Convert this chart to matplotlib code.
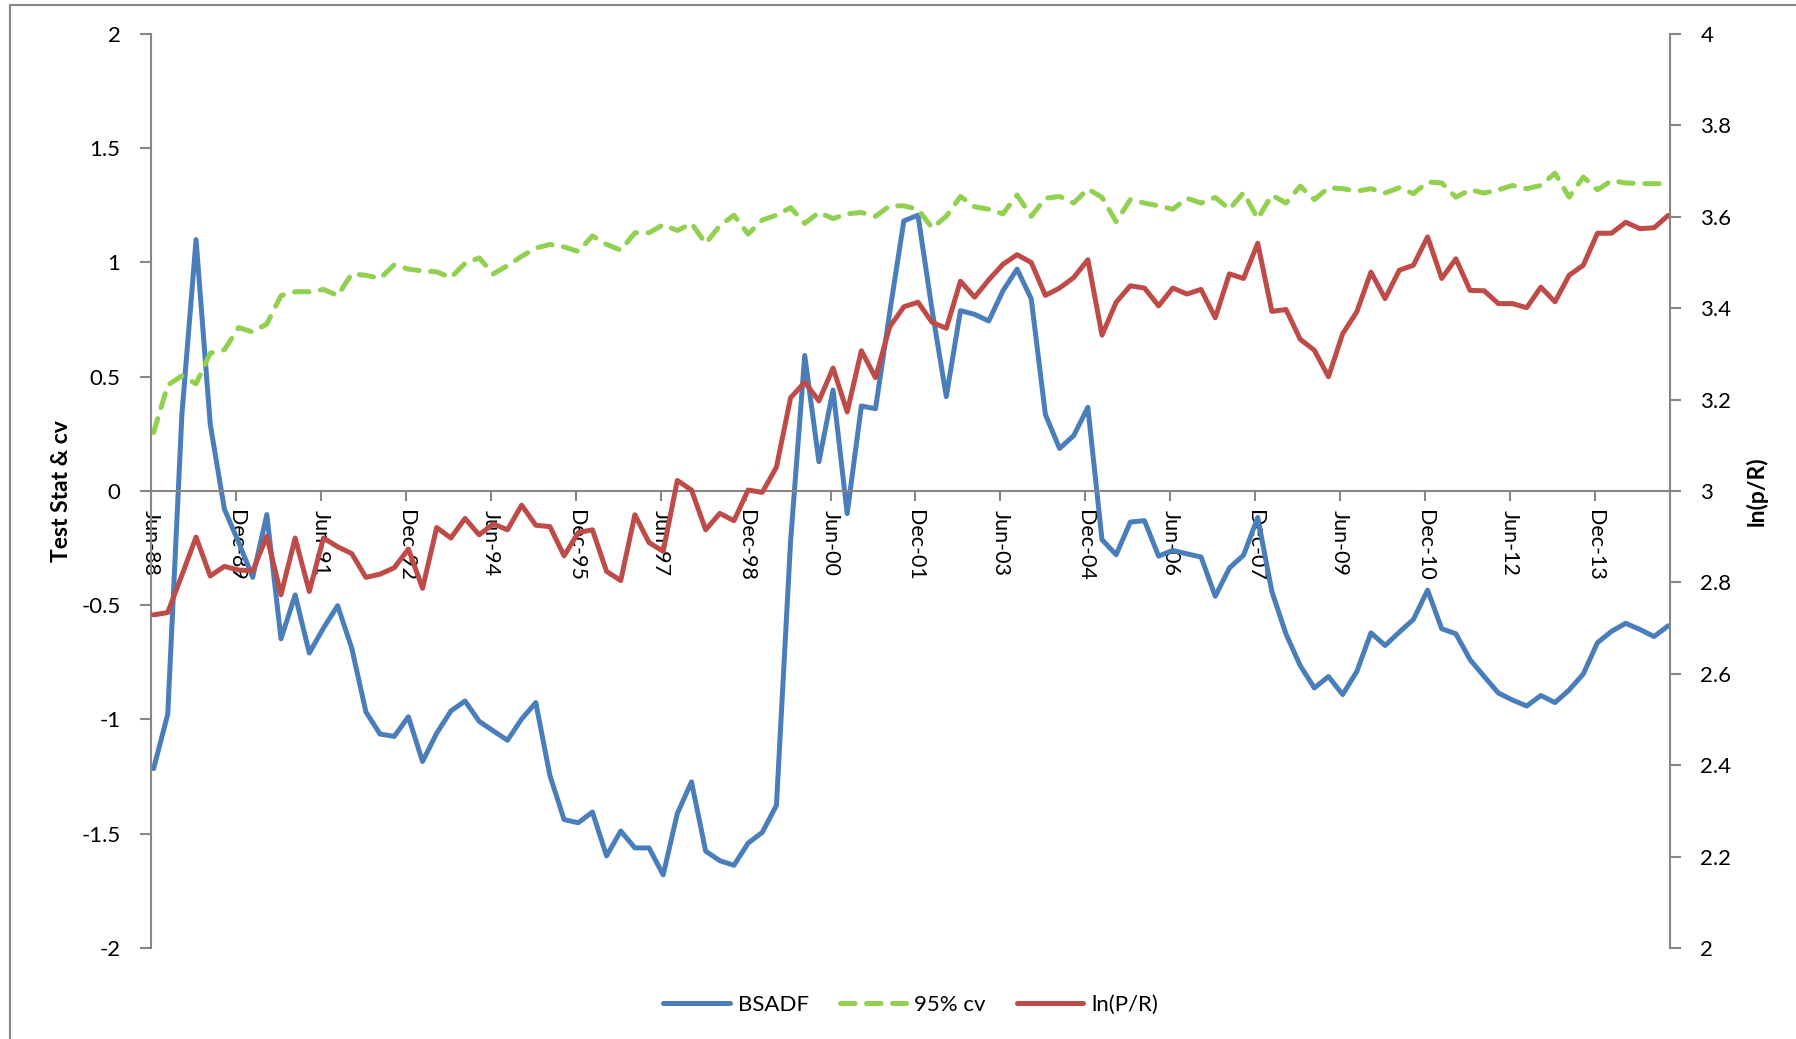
import numpy as np
import matplotlib
matplotlib.use("Agg")   # no window, only the PNG
import matplotlib.pyplot as plt
from matplotlib.patches import Rectangle
from matplotlib.ticker import FuncFormatter, FixedLocator, FixedFormatter

plt.rcParams["font.family"] = ["Lato", "DejaVu Sans"]
plt.rcParams["axes.unicode_minus"] = False

# quarterly observations, Jun-88 .. Mar-15
tick_labels = ["Jun-88", "Dec-89", "Jun-91", "Dec-92", "Jun-94", "Dec-95",
               "Jun-97", "Dec-98", "Jun-00", "Dec-01", "Jun-03", "Dec-04",
               "Jun-06", "Dec-07", "Jun-09", "Dec-10", "Jun-12", "Dec-13"]

bsadf = [-1.215, -0.977, 0.335, 1.10, 0.293, -0.079, -0.223, -0.378, -0.103, -0.647,
         -0.455, -0.709, -0.60, -0.502, -0.688, -0.967, -1.064, -1.074, -0.988, -1.184,
         -1.06, -0.963, -0.919, -1.008, -1.05, -1.091, -0.998, -0.926, -1.246, -1.438,
         -1.452, -1.405, -1.597, -1.488, -1.562, -1.562, -1.68, -1.411, -1.273, -1.576,
         -1.618, -1.638, -1.541, -1.494, -1.376, -0.22, 0.593, 0.128, 0.442, -0.099,
         0.372, 0.36, 0.78, 1.182, 1.207, 0.79, 0.413, 0.789, 0.773, 0.744,
         0.876, 0.971, 0.841, 0.335, 0.186, 0.242, 0.366, -0.213, -0.279, -0.136,
         -0.13, -0.285, -0.26, -0.275, -0.289, -0.461, -0.337, -0.281, -0.116, -0.44,
         -0.626, -0.764, -0.862, -0.812, -0.891, -0.79, -0.621, -0.676, -0.618, -0.562,
         -0.434, -0.603, -0.625, -0.738, -0.812, -0.884, -0.915, -0.941, -0.895, -0.926,
         -0.871, -0.801, -0.664, -0.614, -0.579, -0.606, -0.637, -0.59]

cv95 = [0.256, 0.463, 0.504, 0.469, 0.603, 0.618, 0.715, 0.696, 0.731, 0.855,
        0.872, 0.872, 0.882, 0.855, 0.95, 0.944, 0.93, 0.99, 0.971, 0.963,
        0.959, 0.934, 0.996, 1.02, 0.95, 0.986, 1.027, 1.063, 1.079, 1.068,
        1.048, 1.116, 1.079, 1.054, 1.13, 1.13, 1.165, 1.14, 1.171, 1.083,
        1.161, 1.207, 1.124, 1.186, 1.207, 1.24, 1.171, 1.219, 1.192, 1.213,
        1.219, 1.202, 1.248, 1.248, 1.233, 1.151, 1.202, 1.289, 1.244, 1.233,
        1.213, 1.295, 1.202, 1.281, 1.289, 1.26, 1.322, 1.285, 1.178, 1.275,
        1.26, 1.248, 1.233, 1.281, 1.26, 1.285, 1.233, 1.306, 1.192, 1.295,
        1.26, 1.334, 1.275, 1.327, 1.323, 1.312, 1.323, 1.304, 1.327, 1.301,
        1.352, 1.348, 1.286, 1.318, 1.304, 1.318, 1.337, 1.323, 1.337, 1.391,
        1.286, 1.374, 1.318, 1.358, 1.348, 1.345, 1.345, 1.345]

ln_pr = [2.729, 2.734, 2.816, 2.899, 2.814, 2.835, 2.827, 2.825, 2.901, 2.773,
         2.897, 2.78, 2.897, 2.878, 2.863, 2.811, 2.818, 2.832, 2.873, 2.787,
         2.92, 2.897, 2.94, 2.904, 2.928, 2.915, 2.969, 2.925, 2.922, 2.858,
         2.909, 2.915, 2.824, 2.804, 2.948, 2.887, 2.868, 3.023, 3.002, 2.915,
         2.951, 2.935, 3.002, 2.997, 3.052, 3.204, 3.238, 3.197, 3.269, 3.173,
         3.307, 3.248, 3.359, 3.403, 3.413, 3.369, 3.356, 3.459, 3.424, 3.462,
         3.496, 3.517, 3.50, 3.428, 3.444, 3.467, 3.506, 3.341, 3.413, 3.449,
         3.444, 3.405, 3.444, 3.431, 3.441, 3.379, 3.475, 3.465, 3.542, 3.393,
         3.397, 3.332, 3.308, 3.25, 3.344, 3.392, 3.479, 3.421, 3.483, 3.494,
         3.556, 3.465, 3.508, 3.439, 3.438, 3.41, 3.41, 3.401, 3.446, 3.414,
         3.472, 3.494, 3.564, 3.564, 3.588, 3.574, 3.576, 3.603]

GRAY = "#868686"
BLUE = "#4A7EBB"
GREEN = "#92D050"
RED = "#BE4B48"
FS = 16
LW = 3.6

x = np.arange(len(bsadf))
ticks = np.arange(len(tick_labels)) * 6 - 0.18

fig = plt.figure(figsize=(17.96, 10.39), dpi=100)
ax = fig.add_axes([0.0841, 0.0876, 0.8457, 0.8797])
ax2 = ax.twinx()

l1, = ax.plot(x, bsadf, color=BLUE, lw=LW, solid_joinstyle="round",
              solid_capstyle="round", label="BSADF")
l2, = ax.plot(x, cv95, color=GREEN, lw=LW, linestyle=(0, (2.9, 2.3)),
              dash_capstyle="round", dash_joinstyle="round", label="95% cv")
l3, = ax2.plot(x, ln_pr, color=RED, lw=LW, solid_joinstyle="round",
               solid_capstyle="round", label="ln(P/R)")

ax.set_xlim(-0.18, 107.12)
ax.set_ylim(-2, 2)
ax2.set_ylim(2, 4)
ax.set_yticks(np.arange(-2, 2.01, 0.5))
ax2.set_yticks(np.arange(2, 4.01, 0.2))
fmt = FuncFormatter(lambda v, p: "%g" % round(v, 2))
ax.yaxis.set_major_formatter(fmt)
ax2.yaxis.set_major_formatter(fmt)

ax.xaxis.set_major_locator(FixedLocator(ticks))
ax.xaxis.set_major_formatter(FixedFormatter(tick_labels))

# category axis crosses at zero, like the spreadsheet original
ax.spines["bottom"].set_position(("data", 0))
for s in ("top", "right"):
    ax.spines[s].set_visible(False)
for s in ("top", "left", "bottom"):
    ax2.spines[s].set_visible(False)
for sp in (ax.spines["left"], ax.spines["bottom"], ax2.spines["right"]):
    sp.set_color(GRAY)
    sp.set_linewidth(1.5)

ax.tick_params(axis="x", direction="out", length=7, width=1.5, color=GRAY,
               labelsize=FS - 0.5, pad=7, labelrotation=-90)
ax.tick_params(axis="y", direction="out", length=8, width=1.5, color=GRAY,
               labelsize=FS, pad=14)
ax2.tick_params(axis="y", direction="out", length=8, width=1.5, color=GRAY,
                labelsize=FS, pad=14)
for t in ax.get_xticklabels():
    t.set_ha("center")
    t.set_va("top")

fig.text(0.0345, 0.527, "Test Stat & cv", rotation=90, ha="center", va="center",
         fontsize=FS + 0.5, fontweight="bold")
fig.text(0.978, 0.527, "ln(p/R)", rotation=90, ha="center", va="center",
         fontsize=FS + 0.5, fontweight="bold")

fig.legend(handles=[l1, l2, l3], loc="center", bbox_to_anchor=(0.507, 0.033),
           ncol=3, frameon=False, fontsize=FS, handlelength=3.0,
           handletextpad=0.35, columnspacing=1.4)

# outer chart frame (only top and left edges fall inside the picture)
fig.patches.append(Rectangle((10 / 1796, -0.1), 1.2, 1.1 - 5 / 1039, fill=False,
                             edgecolor=GRAY, lw=1.5, transform=fig.transFigure))

fig.savefig("out.png", dpi=100)
plt.close(fig)
